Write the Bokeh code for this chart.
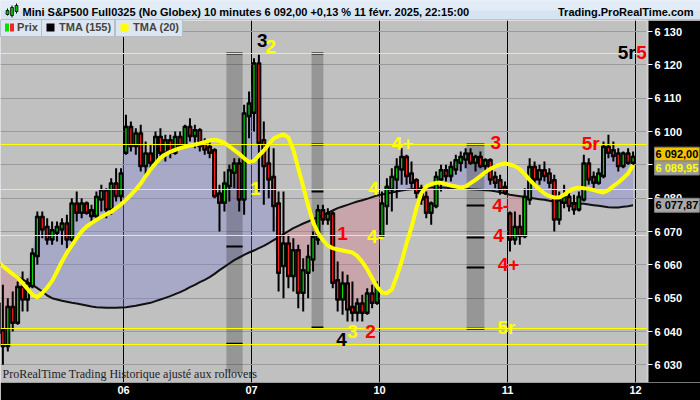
import numpy as np
from bokeh.plotting import figure
from bokeh.layouts import column
from bokeh.models import Range1d, FixedTicker, Label, Legend, LegendItem, LinearAxis, Grid
from bokeh.core.properties import value
from bokeh.embed import file_html
from bokeh.resources import INLINE

# ---------------- data ----------------
bars_per_day = 26
day_ticks = [26, 52, 78, 104, 130]
day_labels = ["06", "07", "10", "11", "12"]
price_ticks = [6030, 6040, 6050, 6060, 6070, 6080, 6090, 6100, 6110, 6120, 6130]
price_tick_labels = ["6 030", "6 040", "6 050", "6 060", "6 070", "6 080",
                     "6 090", "6 100", "6 110", "6 120", "6 130"]

open_05 = [6048,6040,6036,6047,6043,6053,6050,6054,6063,6074,6071,6068,6070,6071,6072,6068,6078,6076,6078,6076,6075,6080,6082,6077,6084,6081]
high_05 = [6055,6054,6050,6052,6055,6058,6056,6065,6076,6076,6074,6073,6073,6074,6075,6080,6082,6080,6079,6078,6082,6084,6083,6086,6089,6089]
low_05 = [6038,6030,6034,6040,6042,6046,6046,6053,6060,6068,6066,6066,6067,6066,6065,6067,6073,6074,6075,6073,6074,6076,6074,6075,6079,6079]
close_05 = [6040,6036,6047,6043,6053,6050,6054,6063,6074,6071,6068,6070,6071,6072,6068,6078,6076,6078,6076,6075,6080,6082,6077,6084,6081,6087]

open_06 = [6094,6101,6096,6099,6090,6093,6091,6098,6094,6097,6094,6098,6096,6101,6099,6100,6096,6095,6094,6081,6079,6084,6088,6090,6080,6105]
high_06 = [6105,6103,6101,6102,6097,6096,6100,6101,6099,6099,6100,6100,6102,6104,6102,6101,6098,6097,6095,6084,6088,6090,6092,6092,6108,6112]
low_06 = [6093,6094,6093,6088,6086,6088,6090,6092,6091,6092,6093,6095,6095,6097,6095,6094,6093,6092,6080,6070,6076,6079,6083,6076,6075,6098]
close_06 = [6101,6096,6099,6090,6093,6091,6098,6094,6097,6094,6098,6096,6101,6099,6100,6096,6095,6094,6081,6079,6084,6088,6090,6080,6105,6108]

open_07 = [6106,6120,6097,6090,6086,6078,6060,6066,6057,6064,6052,6058,6062,6068,6076,6074,6075,6055,6050,6054,6047,6046,6048,6046,6051,6049]
high_07 = [6122,6123,6103,6096,6095,6082,6082,6069,6068,6066,6062,6066,6070,6078,6078,6077,6076,6061,6058,6057,6055,6050,6051,6053,6054,6055]
low_07 = [6100,6082,6078,6080,6070,6052,6050,6053,6052,6047,6046,6050,6058,6066,6072,6072,6053,6046,6045,6043,6043,6043,6043,6045,6047,6048]
close_07 = [6120,6097,6090,6086,6078,6058,6066,6057,6064,6052,6058,6062,6068,6076,6074,6075,6055,6050,6054,6047,6046,6048,6046,6051,6049,6053]

open_10 = [6069,6078,6083,6086,6089,6092,6087,6085,6082,6080,6076,6078,6086,6088,6087,6089,6091,6092,6093,6091,6092,6090,6091,6086,6085,6083]
high_10 = [6082,6086,6089,6092,6095,6093,6091,6086,6084,6082,6079,6088,6090,6090,6091,6093,6094,6095,6095,6093,6094,6092,6092,6088,6087,6085]
low_10 = [6068,6072,6076,6080,6084,6084,6083,6080,6078,6074,6072,6077,6082,6085,6085,6087,6088,6089,6090,6088,6089,6087,6084,6083,6081,6081]
close_10 = [6078,6083,6086,6089,6092,6087,6085,6082,6080,6076,6078,6086,6088,6087,6089,6091,6092,6093,6091,6092,6090,6091,6086,6085,6083,6082]

open_11 = [6075,6068,6071,6069,6080,6089,6086,6088,6087,6085,6074,6079,6080,6078,6077,6080,6090,6086,6085,6087,6095,6094,6093,6090,6093,6091]
high_11 = [6076,6076,6075,6083,6092,6091,6090,6091,6089,6087,6082,6084,6082,6081,6082,6093,6092,6088,6089,6097,6099,6097,6095,6094,6095,6094]
low_11 = [6064,6066,6066,6068,6078,6084,6084,6085,6083,6070,6072,6077,6076,6075,6076,6079,6084,6083,6084,6086,6092,6091,6088,6089,6090,6090]
close_11 = [6068,6071,6069,6080,6089,6086,6088,6087,6085,6074,6079,6080,6078,6077,6080,6090,6086,6085,6087,6095,6094,6093,6090,6093,6091,6092]

tma155_05 = [6060.5,6059.5,6058.5,6057.5,6056.5,6055.6,6054.8,6054.0,6053.0,6052.0,6050.8,6050.0,6049.6,6049.2,6048.9,6048.6,6048.4,6048.1,6047.8,6047.5,6047.3,6047.2,6047.1,6047.1,6047.1,6047.2]
tma155_06 = [6047.3,6047.5,6047.7,6048.0,6048.3,6048.6,6049.1,6049.6,6050.1,6050.6,6051.2,6051.8,6052.5,6053.3,6054.0,6054.8,6055.5,6056.3,6057.3,6058.4,6059.4,6060.4,6061.4,6062.2,6063.0,6063.7]
tma155_07 = [6064.3,6065.0,6065.7,6066.5,6067.4,6068.2,6069.2,6070.1,6071.0,6071.7,6072.4,6073.0,6073.7,6074.3,6074.9,6075.6,6076.3,6077.0,6077.5,6078.0,6078.5,6079.0,6079.4,6079.8,6080.3,6080.8]
tma155_10 = [6081.1,6081.4,6081.7,6082.0,6082.3,6082.5,6082.7,6082.9,6083.0,6083.1,6083.2,6083.2,6083.2,6083.1,6083.0,6083.0,6082.9,6082.8,6082.7,6082.6,6082.5,6082.4,6082.3,6082.1,6081.8,6081.4]
tma155_11 = [6081.0,6080.8,6080.6,6080.4,6080.1,6079.9,6079.7,6079.5,6079.2,6079.0,6078.8,6078.7,6078.6,6078.5,6078.4,6078.3,6078.1,6077.9,6077.7,6077.5,6077.3,6077.2,6077.2,6077.4,6077.6,6077.87]

tma20_05 = [6061.0,6059.6,6058.4,6057.3,6056.2,6054.5,6052.8,6051.0,6050.3,6051.5,6053.2,6055.2,6058.0,6061.0,6063.6,6065.8,6068.0,6070.0,6071.5,6072.5,6073.5,6074.4,6075.2,6075.9,6077.0,6078.1]
tma20_06 = [6079.5,6081.0,6082.6,6084.4,6086.6,6088.6,6090.4,6092.1,6093.1,6093.9,6094.5,6095.0,6095.4,6095.8,6096.1,6096.4,6096.8,6097.3,6097.5,6097.2,6096.6,6095.5,6094.4,6093.3,6092.0,6090.8]
tma20_07 = [6091.2,6092.8,6094.3,6096.2,6097.9,6098.6,6099.1,6098.2,6094.5,6089.0,6083.5,6077.8,6072.8,6069.6,6067.4,6065.8,6065.0,6064.6,6064.3,6064.0,6063.7,6062.6,6060.9,6058.7,6056.0,6053.4]
tma20_10 = [6051.7,6051.5,6052.6,6056.5,6061.0,6066.5,6071.3,6077.0,6081.5,6083.5,6084.2,6084.6,6084.6,6084.2,6083.8,6083.5,6083.2,6083.5,6084.5,6085.5,6086.6,6087.8,6088.8,6089.5,6090.1,6090.4]
tma20_11 = [6090.1,6089.6,6088.7,6087.2,6085.5,6084.0,6082.6,6081.4,6080.6,6080.2,6080.2,6081.0,6082.2,6082.9,6083.1,6083.0,6082.8,6082.4,6082.0,6081.7,6082.4,6083.6,6084.7,6086.0,6087.4,6089.95]

level_prices = [6123.4, 6096.1, 6082.6, 6068.8, 6040.8, 6036.0]

band_left = [46.9, 64.2, 95.7]
band_right = [50.2, 66.6, 99.3]
band_top = [6123.4, 6123.4, 6096.1]
band_bottom = [6027.6, 6041.2, 6040.8]
mark_band = [0, 0, 0, 1, 1, 1, 1, 2, 2, 2, 2, 2]
mark_price = [6123.4, 6065.5, 6036.3, 6123.4, 6096.1, 6082.0, 6041.2, 6096.1, 6077.8, 6068.2, 6059.2, 6040.8]

wave_text = ["3", "2", "1", "4", "4-", "4+", "3", "4-", "4", "4+", "1", "3", "2", "4", "5r", "5r", "5r", "5"]
wave_bar = [54.2, 55.9, 52.8, 76.8, 77.2, 82.7, 101.6, 102.6, 102.2, 104.2, 70.5, 72.5, 76.2, 70.3, 103.8, 120.9, 128.2, 131.2]
wave_price = [6127.3, 6125.5, 6082.9, 6082.9, 6068.5, 6096.4, 6096.7, 6077.8, 6068.8, 6060.1, 6069.4, 6040.0, 6040.0, 6037.6, 6041.2, 6096.4, 6123.7, 6123.7]
wave_color = ["black", "#ffff00", "#ffff00", "#ffff00", "#ffff00", "#ffff00", "#ff0000", "#ff0000", "#ff0000", "#ff0000",
              "#ff0000", "#ffff00", "#ff0000", "black", "#ffff00", "#ff0000", "black", "#ff0000"]

last_price = 6092.00
last_tma20 = 6089.95
last_tma155 = 6077.87

title_text = "Mini S&P500 Full0325 (No Globex) 10 minutes 6 092,00 +0,13 % 11 févr. 2025, 22:15:00"
site_text = "Trading.ProRealTime.com"
footer_text = "ProRealTime Trading Historique ajusté aux rollovers"

# ---------------- assemble ----------------
opens = np.array(open_05 + open_06 + open_07 + open_10 + open_11, dtype=float)
highs = np.array(high_05 + high_06 + high_07 + high_10 + high_11, dtype=float)
lows = np.array(low_05 + low_06 + low_07 + low_10 + low_11, dtype=float)
closes = np.array(close_05 + close_06 + close_07 + close_10 + close_11, dtype=float)
tma155 = np.array(tma155_05 + tma155_06 + tma155_07 + tma155_10 + tma155_11)
tma20 = np.array(tma20_05 + tma20_06 + tma20_07 + tma20_10 + tma20_11)
xs = np.arange(len(closes)) + 0.5
colors = ["#00e000" if c >= o else "#ff2020" for o, c in zip(opens, closes)]

FONT = "Liberation Sans"
W = 700

# ---------------- header ----------------
hdr = figure(frame_width=W, frame_height=20, x_range=Range1d(0, W), y_range=Range1d(0, 20),
             toolbar_location=None, output_backend="svg", x_axis_type=None, y_axis_type=None,
             min_border=0, min_border_left=0, min_border_right=0, min_border_top=0, min_border_bottom=0)
hdr.grid.visible = False
hdr.outline_line_color = None
hdr.background_fill_color = "#d6e3f0"
hdr.border_fill_color = "#d6e3f0"
hdr.quad(left=[0], right=[W], bottom=[10], top=[20], fill_color="#e2ecf6", line_color=None)
hdr.segment(x0=[0], x1=[W], y0=[0.5], y1=[0.5], line_color="#8ea2b8", line_width=1)
hdr.segment(x0=[7, 11.5, 16], x1=[7, 11.5, 16], y0=[5, 3, 7], y1=[12, 15, 17], line_color="black", line_width=1)
hdr.vbar(x=[7, 11.5, 16], bottom=[6, 5, 9], top=[10, 13, 15], width=2.8,
         fill_color="#00c000", line_color="black", line_width=0.8)
hdr.text(x=[22], y=[8.5], text=[title_text], text_font=value(FONT), text_font_style="bold",
         text_font_size="11px", text_baseline="middle", text_align="left", text_color="black")
hdr.text(x=[693], y=[8.5], text=[site_text], text_font=value(FONT), text_font_style="bold",
         text_font_size="11px", text_baseline="middle", text_align="right", text_color="black")

# ---------------- main chart ----------------
x_start, x_end = 1.016, 143.2
y_start, y_end = 6024.7, 6133.3
axis_x = 132.44

p = figure(frame_width=W, frame_height=362, x_range=Range1d(x_start, x_end), y_range=Range1d(y_start, y_end),
           toolbar_location=None, output_backend="svg", y_axis_type=None,
           min_border_left=0, min_border_top=0, min_border_right=0, min_border_bottom=18)
p.background_fill_color = "#c0c0c0"
p.border_fill_color = "black"
p.outline_line_color = None

p.xaxis.ticker = FixedTicker(ticks=day_ticks)
p.xaxis.major_label_overrides = {t: s for t, s in zip(day_ticks, day_labels)}
p.xaxis.major_tick_line_color = None
p.xaxis.major_tick_out = 0
p.xaxis.major_tick_in = 0
p.xaxis.minor_tick_line_color = None
p.xaxis.axis_line_color = None
p.xaxis.major_label_text_color = "white"
p.xaxis.major_label_text_font = FONT
p.xaxis.major_label_text_font_style = "bold"
p.xaxis.major_label_text_font_size = "11px"
p.xaxis.major_label_standoff = 3

p.xgrid.grid_line_color = "black"
p.xgrid.grid_line_width = 1
p.add_layout(Grid(dimension=1, ticker=FixedTicker(ticks=price_ticks), grid_line_color="#9a9a9a", grid_line_width=1))

# fills between price and long TMA
upper = np.maximum(closes, tma155)
lower = np.minimum(closes, tma155)
p.varea(x=xs, y1=upper, y2=tma155, fill_color="#7c7cd4", fill_alpha=0.36)
p.varea(x=xs, y1=lower, y2=tma155, fill_color="#d86c7c", fill_alpha=0.32)

# shaded zones
p.quad(left=band_left, right=band_right, top=band_top, bottom=band_bottom,
       fill_color="black", fill_alpha=0.22, line_color=None)
p.segment(x0=[band_left[i] for i in mark_band], x1=[band_right[i] for i in mark_band],
          y0=mark_price, y1=mark_price, line_color="black", line_width=2)

# long TMA
p.line(xs, tma155, line_color="#111111", line_width=2)

# candles: black body/wick with a thin coloured open-close stroke
p.segment(x0=xs, x1=xs, y0=lows, y1=highs, line_color="black", line_width=2)
p.vbar(x=xs, width=0.8, top=np.maximum(opens, closes) + 0.6, bottom=np.minimum(opens, closes) - 0.6,
       fill_color="black", line_color="black", line_width=1)
p.segment(x0=xs, x1=xs, y0=opens, y1=closes, line_color=colors, line_width=1.2)

# levels
p.hspan(y=level_prices, line_color="#ffff00", line_width=1)

# short TMA
p.line(xs, tma20, line_color="#ffff00", line_width=4)

# price-scale panel
p.quad(left=[axis_x], right=[x_end], bottom=[y_start], top=[y_end], fill_color="black", line_color=None)

# wave labels
p.text(x=wave_bar, y=wave_price, text=wave_text, text_color=wave_color,
       text_font=value(FONT), text_font_style="bold", text_font_size="19px",
       text_align="center", text_baseline="middle")

# price axis (right)
yaxis = LinearAxis(fixed_location=axis_x, ticker=FixedTicker(ticks=price_ticks),
                   major_label_overrides={t: s for t, s in zip(price_ticks, price_tick_labels)},
                   major_tick_line_color="white", major_tick_out=5, major_tick_in=0,
                   minor_tick_line_color=None, axis_line_color="#d0d0d0", axis_line_width=2,
                   major_label_text_color="white", major_label_text_font=FONT,
                   major_label_text_font_style="bold", major_label_text_font_size="11px",
                   major_label_standoff=2)
p.add_layout(yaxis, "right")

# legend boxes
def icon(color):
    return p.quad(left=[np.nan], right=[np.nan], top=[np.nan], bottom=[np.nan],
                  fill_color=color, line_color=None)

g_up = icon("#00e000")
g_dn = icon("#ff2020")
g_155 = icon("black")
g_20 = icon("#ffff00")

def make_legend(items, loc, gw, standoff):
    lg = Legend(items=items, location=loc, orientation="horizontal", glyph_width=gw, glyph_height=10,
                label_standoff=standoff, spacing=0, padding=3, margin=0, label_width=0, label_height=10,
                label_text_font=FONT, label_text_font_style="bold", label_text_font_size="11px",
                background_fill_color="#dde6ef", background_fill_alpha=1.0,
                border_line_color="#8a9aaa", border_line_width=1)
    p.add_layout(lg)

make_legend([LegendItem(label="", renderers=[g_up]), LegendItem(label="\u00a0Prix", renderers=[g_dn])],
            (0, 345), 5, 0)
make_legend([LegendItem(label="TMA (155)", renderers=[g_155])], (41, 345), 10, 4)
make_legend([LegendItem(label="TMA (20)", renderers=[g_20])], (115, 345), 10, 4)

# footer
p.add_layout(Label(x=2, y=2, x_units="screen", y_units="screen", text=footer_text,
                   text_font="Liberation Sans Narrow", text_font_size="12px",
                   text_color="#1e1e1e", text_baseline="bottom"))

# price boxes on the axis
box_x = 133.86
p.add_layout(Label(x=box_x, y=last_price, y_offset=4, text="6 092,00", text_baseline="middle",
                   text_font=FONT, text_font_style="bold", text_font_size="11px", text_color="black",
                   background_fill_color="#f2c400", border_line_color="#808080", padding=1))
p.add_layout(Label(x=box_x, y=last_tma20, y_offset=-3, text="6 089,95", text_baseline="middle",
                   text_font=FONT, text_font_style="bold", text_font_size="11px", text_color="#ffff00",
                   background_fill_color="#9c9c9c", border_line_color="#808080", padding=1))
p.add_layout(Label(x=box_x, y=last_tma155, text="6 077,87", text_baseline="middle",
                   text_font=FONT, text_font_style="bold", text_font_size="11px", text_color="black",
                   background_fill_color="#a8a8a8", border_line_color="#808080", padding=1))

layout = column(hdr, p, spacing=0)
open("out.html", "w").write(file_html(layout, INLINE))
